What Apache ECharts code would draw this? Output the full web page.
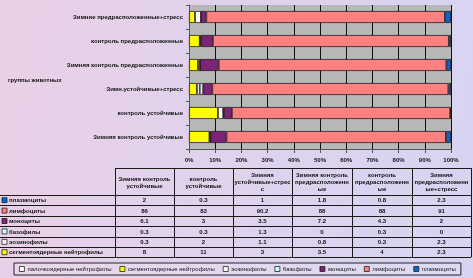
<!DOCTYPE html>
<html>
<head>
<meta charset="utf-8">
<script src="https://cdn.jsdelivr.net/npm/echarts@6/dist/echarts.min.js"></script>
<style>
  html, body { margin: 0; padding: 0; }
  #chart {
    width: 473px;
    height: 278px;
    background: linear-gradient(100deg, #ead0e6 0%, #e0d2ec 45%, #d6d4f2 100%);
  }
</style>
</head>
<body>
<div id="chart"></div>
<script>
// группы (снизу вверх на графике = столбцы таблицы слева направо)
const groups = [
  "Зимняя контроль устойчивые",
  "контроль устойчивые",
  "Зимн.устойчивые+стресс",
  "Зимняя контроль предрасположенные",
  "контроль предрасположенные",
  "Зимние предрасположенные+стресс",
];
const tableHeads = [
  "Зимняя контроль\nустойчивые",
  "контроль\nустойчивые",
  "Зимняя\nустойчивые+стрес\nс",
  "Зимняя контроль\nпредрасположенн\nые",
  "контроль\nпредрасположенн\nые",
  "Зимняя\nпредрасположенн\nые+стресс",
];
const cellTypes = [
  "палочкоядерные нейтрофилы",
  "сегментоядерные нейтрофилы",
  "эозинофилы",
  "базофилы",
  "моноциты",
  "лимфоциты",
  "плазмоциты",
];
const cellColors = ["#ffffff", "#ffff00", "#ffffff", "#ccffff", "#7b2478", "#ff8080", "#0066cc"];

const bandNeutro = [];
const segmented = [8, 11, 3, 3.5, 4, 2.3];
const eosinophils = [0.3, 2, 1.1, 0.8, 0.3, 2.3];
const basophils = [0.3, 0.3, 1.3, 0, 0.3, 0];
const monocytes = [6.1, 3, 3.5, 7.2, 4.3, 2];
const lymphocytes = [86, 83, 90.2, 88, 88, 91];
const plasmocytes = [2, 0.3, 1, 1.8, 0.8, 2.3];

const seriesValues = [bandNeutro, segmented, eosinophils, basophils, monocytes, lymphocytes, plasmocytes];
// строки таблицы (сверху вниз)
const tableRows = [6, 5, 4, 3, 2, 1];

const totals = groups.map((g, i) =>
  seriesValues.reduce((s, arr) => s + (arr[i] || 0), 0)
);

const font = "Liberation Sans, Arial, sans-serif";

// таблица под графиком
const colX = [115, 174, 233, 292, 352, 412, 471];
const headTop = 168, headBottom = 195, rowH = 10.4;
const graphic = [];
const line = (x1, y1, x2, y2) => ({
  type: "line",
  silent: true,
  shape: { x1, y1, x2, y2 },
  style: { stroke: "#1a1a1a", lineWidth: 1 },
});
const tableBottom = headBottom + rowH * tableRows.length;
graphic.push(line(colX[0], headTop + 0.5, colX[6], headTop + 0.5));
colX.forEach((x) => graphic.push(line(x + 0.5, headTop, x + 0.5, tableBottom)));
graphic.push(line(0, Math.round(headBottom) + 0.5, colX[6], Math.round(headBottom) + 0.5));
tableHeads.forEach((h, i) => {
  graphic.push({
    type: "text",
    silent: true,
    style: {
      text: h,
      x: (colX[i] + colX[i + 1]) / 2,
      y: (headTop + headBottom) / 2 + 1,
      align: "center",
      verticalAlign: "middle",
      fontSize: 6,
      lineHeight: 7,
      fontWeight: "bold",
      fontFamily: font,
      fill: "#111",
    },
  });
});
tableRows.forEach((si, r) => {
  const y0 = headBottom + rowH * r;
  const yc = y0 + rowH / 2 + 0.5;
  graphic.push(line(0, Math.round(y0 + rowH) + 0.5, colX[6], Math.round(y0 + rowH) + 0.5));
  graphic.push({
    type: "rect",
    silent: true,
    shape: { x: 2, y: yc - 3, width: 5, height: 5 },
    style: { fill: cellColors[si], stroke: "#222", lineWidth: 0.8 },
  });
  graphic.push({
    type: "text",
    silent: true,
    style: {
      text: cellTypes[si],
      x: 9,
      y: yc,
      align: "left",
      verticalAlign: "middle",
      fontSize: 6,
      fontWeight: "bold",
      fontFamily: font,
      fill: "#111",
    },
  });
  seriesValues[si].forEach((v, c) => {
    graphic.push({
      type: "text",
      silent: true,
      style: {
        text: String(v),
        x: (colX[c] + colX[c + 1]) / 2,
        y: yc,
        align: "center",
        verticalAlign: "middle",
        fontSize: 6,
        fontWeight: "bold",
        fontFamily: font,
        fill: "#111",
      },
    });
  });
});
graphic.push({
  type: "text",
  silent: true,
  style: {
    text: "группы животных",
    x: 8,
    y: 80,
    align: "left",
    verticalAlign: "middle",
    fontSize: 6,
    fontWeight: "bold",
    fontFamily: font,
    fill: "#111",
  },
});

const chart = echarts.init(document.getElementById("chart"));
chart.setOption({
  animation: false,
  textStyle: { fontFamily: font },
  grid: {
    left: 189,
    right: 22,
    top: 5,
    bottom: 129,
    show: true,
    backgroundColor: "#b6b8b8",
    borderWidth: 0,
  },
  legend: {
    data: cellTypes,
    icon: "rect",
    left: 14,
    top: 263,
    width: 460,
    orient: "horizontal",
    itemWidth: 5,
    itemHeight: 5,
    itemGap: 8,
    padding: [3, 5],
    borderColor: "#222",
    borderWidth: 1,
    backgroundColor: "rgba(255,255,255,0.15)",
    textStyle: { fontSize: 6, color: "#111", padding: [0, 0, 0, -2] },
    itemStyle: { borderColor: "#222", borderWidth: 0.8 },
  },
  xAxis: {
    type: "value",
    min: 0,
    max: 100,
    interval: 10,
    axisLine: { show: true, lineStyle: { color: "#555" } },
    axisTick: { show: true, length: 4, lineStyle: { color: "#555" } },
    axisLabel: { formatter: "{value}%", fontSize: 6, fontWeight: "bold", color: "#111", margin: 8 },
    splitLine: { show: true, lineStyle: { color: "#111", width: 1 } },
  },
  yAxis: {
    type: "category",
    data: groups,
    axisLine: { show: true, lineStyle: { color: "#555" } },
    axisTick: { show: true, length: 3, lineStyle: { color: "#555" } },
    axisLabel: { fontSize: 6, fontWeight: "bold", color: "#111", margin: 6 },
  },
  series: cellTypes.map((name, si) => ({
    name,
    type: "bar",
    stack: "total",
    barWidth: 12,
    itemStyle: { color: cellColors[si], borderColor: "#2a1a1a", borderWidth: 0.8 },
    data: seriesValues[si].map((v, i) => (v / totals[i]) * 100),
  })),
  graphic,
});
</script>
</body>
</html>
